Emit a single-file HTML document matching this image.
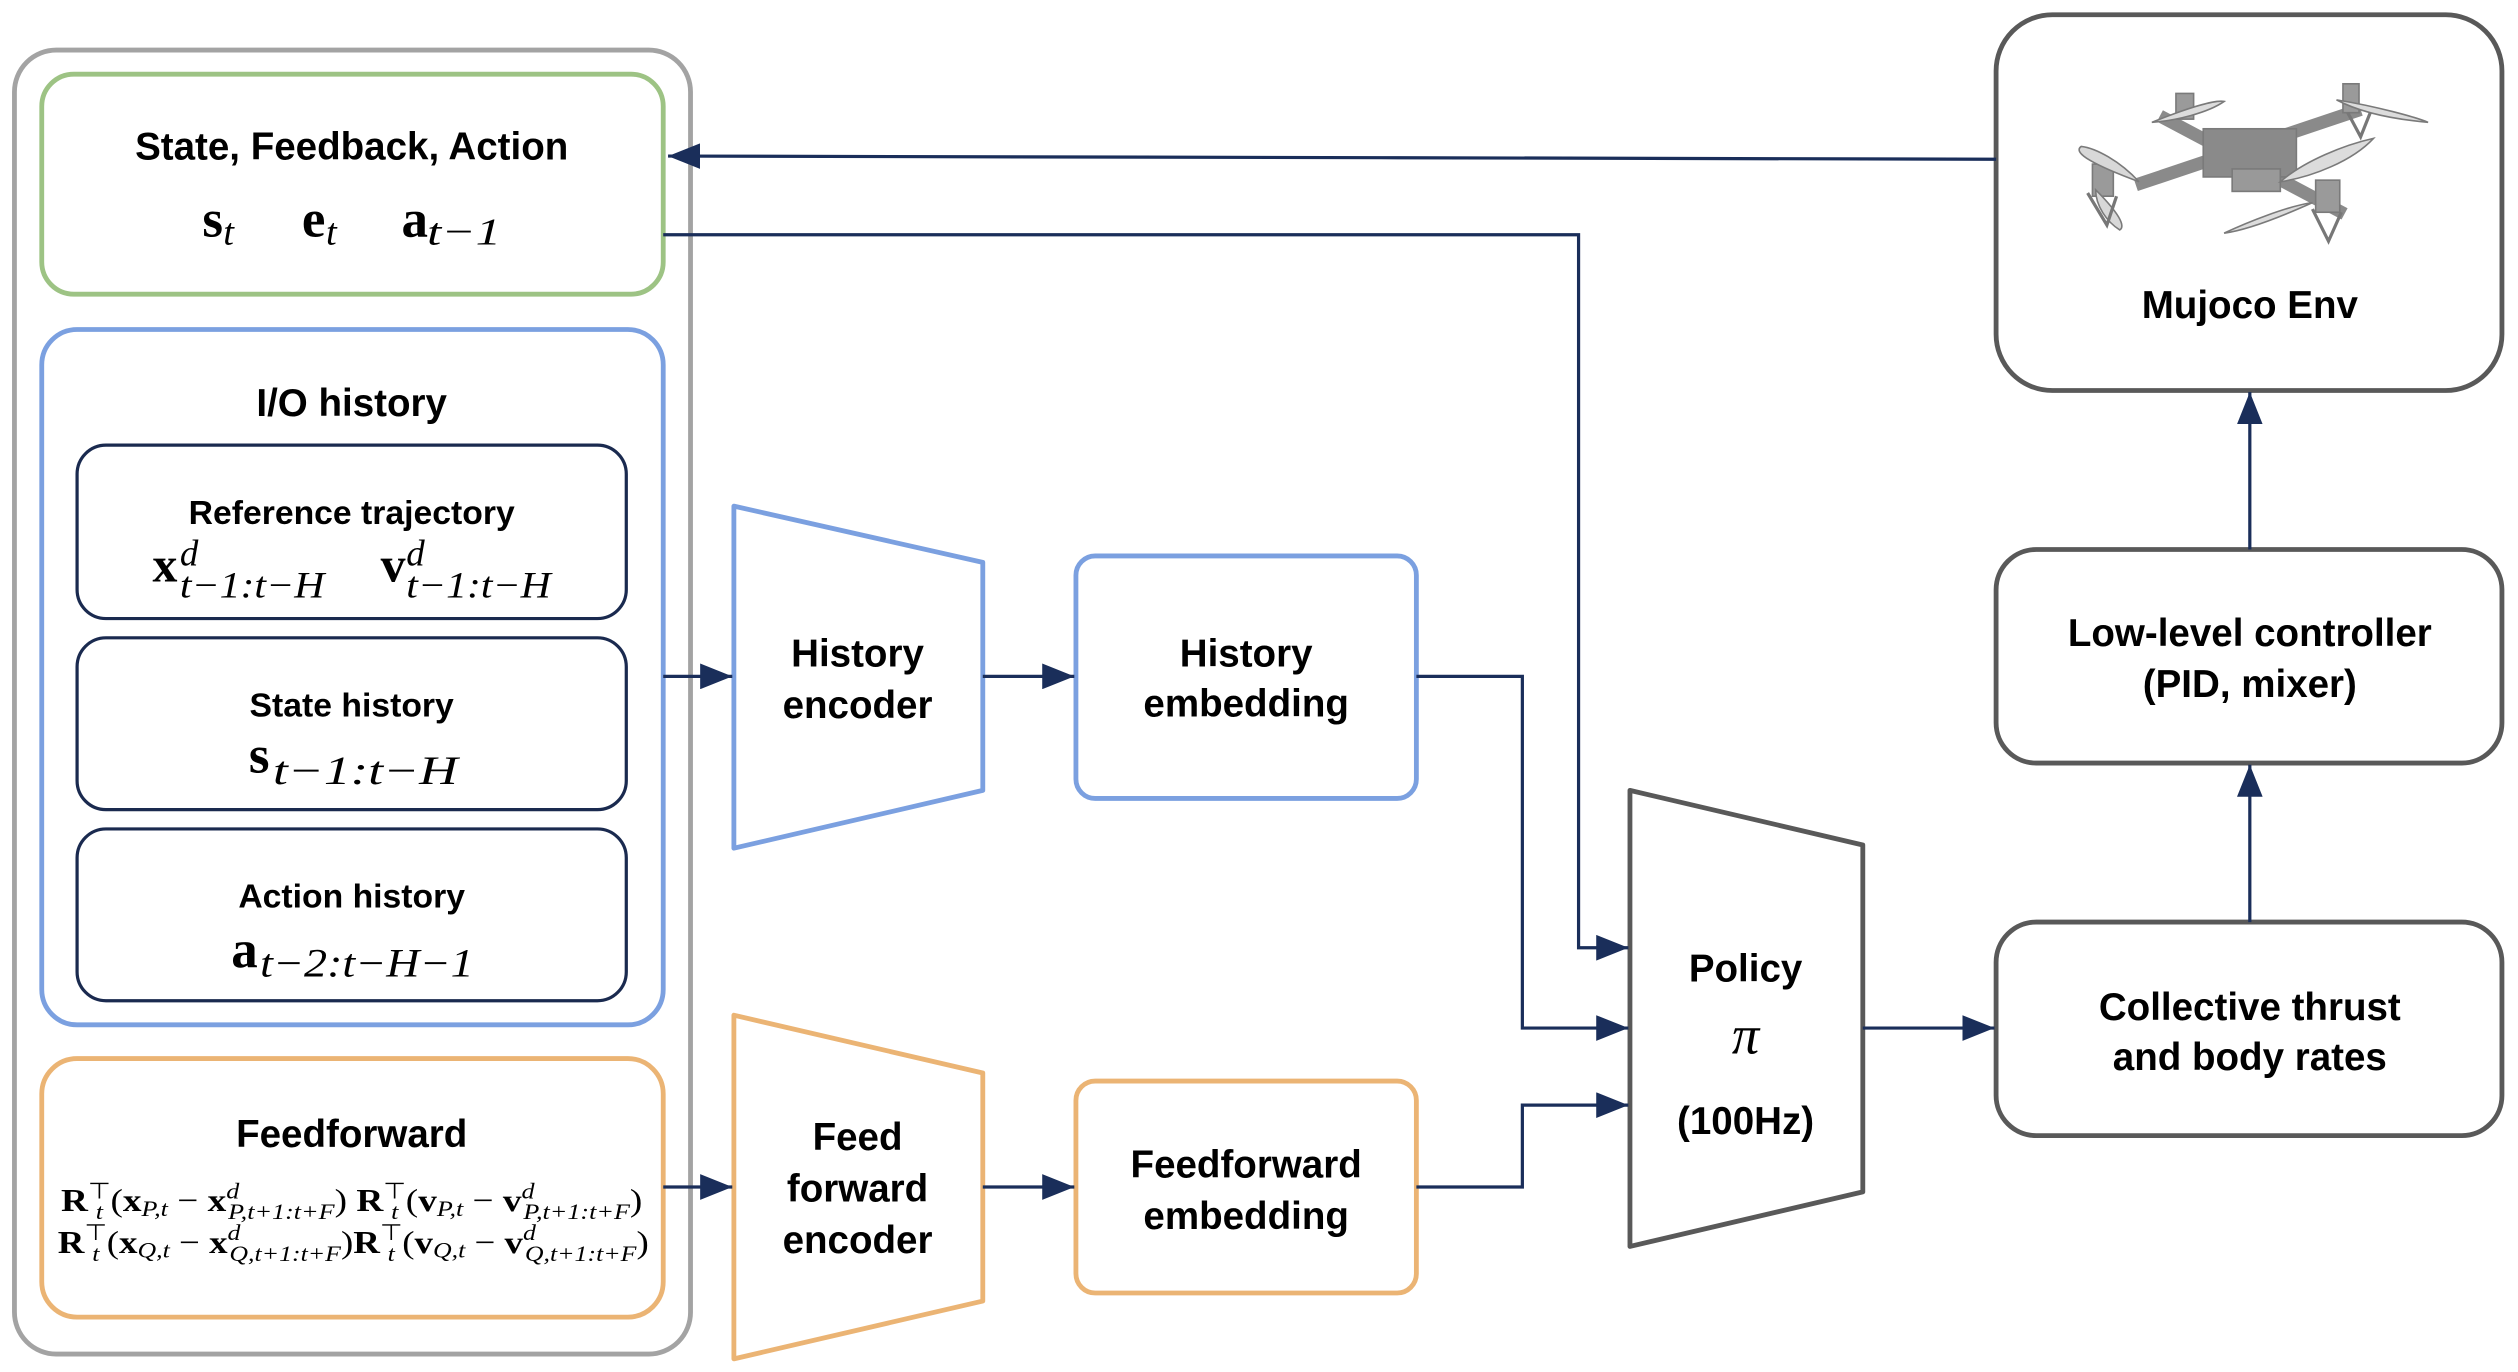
<!DOCTYPE html>
<html><head><meta charset="utf-8"><style>
html,body{margin:0;padding:0;background:#fff;}
svg{display:block;}
.t{font-family:"Liberation Sans",Arial,sans-serif;font-weight:bold;fill:#000;text-anchor:middle;}
.m{font-family:"Liberation Serif",serif;fill:#000;}
.b{font-weight:bold;}
.i{font-style:italic;}
</style></head><body>
<svg width="2518" height="1372" viewBox="0 0 1568 854" xmlns="http://www.w3.org/2000/svg">
<defs>
<marker id="ab" markerWidth="22" markerHeight="16" refX="20" refY="8" orient="auto" markerUnits="userSpaceOnUse">
<path d="M0,0 L20,8 L0,16 z" fill="#1a2e5a"/>
</marker>
</defs>

<rect x="9" y="31" width="421" height="812" rx="26" fill="none" stroke="#a3a3a3" stroke-width="3"/>

<rect x="26" y="46" width="387" height="137" rx="20" fill="none" stroke="#9dc384" stroke-width="3"/>
<text class="t" x="219" y="99" font-size="24">State, Feedback, Action</text>
<text class="m b" x="126" y="147" font-size="33">s</text><text class="m i" x="139" y="152" font-size="24">t</text>
<text class="m b" x="188" y="147" font-size="33">e</text><text class="m i" x="203" y="152" font-size="24">t</text>
<text class="m b" x="250" y="147" font-size="33">a</text><text class="m i" x="266" y="152" font-size="24" textLength="46" lengthAdjust="spacingAndGlyphs">t−1</text>

<rect x="26" y="205" width="387" height="433" rx="22" fill="none" stroke="#7ba0e0" stroke-width="3"/>
<text class="t" x="219" y="259" font-size="24">I/O history</text>

<rect x="48" y="277" width="342" height="108" rx="18" fill="none" stroke="#1a2a4f" stroke-width="2"/>
<text class="t" x="219" y="326" font-size="21">Reference trajectory</text>
<text class="m b" x="95" y="362" font-size="31">x</text>
<text class="m i" x="112" y="352" font-size="23">d</text>
<text class="m i" x="112" y="372" font-size="23" textLength="90" lengthAdjust="spacingAndGlyphs">t−1:t−H</text>
<text class="m b" x="237" y="362" font-size="31">v</text>
<text class="m i" x="253" y="352" font-size="23">d</text>
<text class="m i" x="253" y="372" font-size="23" textLength="90" lengthAdjust="spacingAndGlyphs">t−1:t−H</text>

<rect x="48" y="397" width="342" height="107" rx="18" fill="none" stroke="#1a2a4f" stroke-width="2"/>
<text class="t" x="219" y="446" font-size="21">State history</text>
<text class="m b" x="155" y="481" font-size="33">s</text>
<text class="m i" x="170" y="488" font-size="25" textLength="115" lengthAdjust="spacingAndGlyphs">t−1:t−H</text>

<rect x="48" y="516" width="342" height="107" rx="18" fill="none" stroke="#1a2a4f" stroke-width="2"/>
<text class="t" x="219" y="565" font-size="21">Action history</text>
<text class="m b" x="144" y="602" font-size="33">a</text>
<text class="m i" x="162" y="608" font-size="25" textLength="133" lengthAdjust="spacingAndGlyphs">t−2:t−H−1</text>

<rect x="26" y="659" width="387" height="161" rx="22" fill="none" stroke="#ebb474" stroke-width="3"/>
<text class="t" x="219" y="714" font-size="24">Feedforward</text>
<text class="m" x="38" y="754" font-size="20" textLength="362" lengthAdjust="spacingAndGlyphs"><tspan class="b">R</tspan><tspan font-size="14" dy="-8">⊤</tspan><tspan font-size="14" class="i" dx="-8" dy="13">t</tspan><tspan dy="-5" dx="4">(</tspan><tspan class="b">x</tspan><tspan class="i" font-size="14" dy="3">P,t</tspan><tspan dy="-3"> − </tspan><tspan class="b">x</tspan><tspan class="i" font-size="14" dy="-8">d</tspan><tspan class="i" font-size="14" dy="13" dx="-6">P,t+1:t+F</tspan><tspan dy="-5">) </tspan><tspan class="b">R</tspan><tspan font-size="14" dy="-8">⊤</tspan><tspan font-size="14" class="i" dx="-8" dy="13">t</tspan><tspan dy="-5" dx="4">(</tspan><tspan class="b">v</tspan><tspan class="i" font-size="14" dy="3">P,t</tspan><tspan dy="-3"> − </tspan><tspan class="b">v</tspan><tspan class="i" font-size="14" dy="-8">d</tspan><tspan class="i" font-size="14" dy="13" dx="-6">P,t+1:t+F</tspan><tspan dy="-5">)</tspan></text>
<text class="m" x="36" y="780" font-size="20" textLength="368" lengthAdjust="spacingAndGlyphs"><tspan class="b">R</tspan><tspan font-size="14" dy="-8">⊤</tspan><tspan font-size="14" class="i" dx="-8" dy="13">t</tspan><tspan dy="-5" dx="4">(</tspan><tspan class="b">x</tspan><tspan class="i" font-size="14" dy="3">Q,t</tspan><tspan dy="-3"> − </tspan><tspan class="b">x</tspan><tspan class="i" font-size="14" dy="-8">d</tspan><tspan class="i" font-size="14" dy="13" dx="-6">Q,t+1:t+F</tspan><tspan dy="-5">)</tspan><tspan class="b">R</tspan><tspan font-size="14" dy="-8">⊤</tspan><tspan font-size="14" class="i" dx="-8" dy="13">t</tspan><tspan dy="-5" dx="4">(</tspan><tspan class="b">v</tspan><tspan class="i" font-size="14" dy="3">Q,t</tspan><tspan dy="-3"> − </tspan><tspan class="b">v</tspan><tspan class="i" font-size="14" dy="-8">d</tspan><tspan class="i" font-size="14" dy="13" dx="-6">Q,t+1:t+F</tspan><tspan dy="-5">)</tspan></text>

<polygon points="457,315 612,350 612,492 457,528" fill="none" stroke="#7ba0e0" stroke-width="3" stroke-linejoin="round"/>
<text class="t" x="534" y="415" font-size="24">History</text>
<text class="t" x="534" y="447" font-size="24">encoder</text>

<rect x="670" y="346" width="212" height="151" rx="12" fill="none" stroke="#7ba0e0" stroke-width="3"/>
<text class="t" x="776" y="415" font-size="24">History</text>
<text class="t" x="776" y="446" font-size="24">embedding</text>

<polygon points="457,632 612,668 612,810 457,846" fill="none" stroke="#ebb474" stroke-width="3" stroke-linejoin="round"/>
<text class="t" x="534" y="716" font-size="24">Feed</text>
<text class="t" x="534" y="748" font-size="24">forward</text>
<text class="t" x="534" y="780" font-size="24">encoder</text>

<rect x="670" y="673" width="212" height="132" rx="12" fill="none" stroke="#ebb474" stroke-width="3"/>
<text class="t" x="776" y="733" font-size="24">Feedforward</text>
<text class="t" x="776" y="765" font-size="24">embedding</text>

<polygon points="1015,492 1160,526 1160,742 1015,776" fill="none" stroke="#595959" stroke-width="3" stroke-linejoin="round"/>
<text class="t" x="1087" y="611" font-size="24">Policy</text>
<text class="m i" x="1087" y="656" font-size="34" text-anchor="middle">π</text>
<text class="t" x="1087" y="706" font-size="24">(100Hz)</text>

<rect x="1243" y="9" width="315" height="234" rx="35" fill="none" stroke="#595959" stroke-width="3"/>
<text class="t" x="1401" y="198" font-size="24">Mujoco Env</text>
<g fill="#9a9a9a" stroke="#7a7a7a" stroke-width="1">
<path d="M1330,115 L1470,68" stroke="#8a8a8a" stroke-width="8" fill="none"/>
<path d="M1345,72 L1460,133" stroke="#8a8a8a" stroke-width="8" fill="none"/>
<rect x="1372" y="80" width="58" height="30" fill="#8a8a8a"/>
<rect x="1390" y="105" width="30" height="14" fill="#999"/>
<rect x="1303" y="102" width="13" height="20"/>
<rect x="1355" y="58" width="11" height="16"/>
<rect x="1459" y="52" width="10" height="18"/>
<rect x="1442" y="112" width="15" height="20"/>
<path d="M1332,113 C1305,103 1290,95 1296,91 C1305,92 1320,100 1332,113 Z" fill="#d8d8d8"/>
<path d="M1305,118 C1315,128 1325,140 1320,143 C1312,138 1305,128 1305,118 Z" fill="#d8d8d8"/>
<path d="M1340,76 C1365,66 1380,62 1385,63 C1375,70 1355,75 1340,76 Z" fill="#dcdcdc"/>
<path d="M1455,62 C1480,66 1505,73 1512,76 C1490,74 1470,70 1455,62 Z" fill="#dcdcdc"/>
<path d="M1420,113 C1435,100 1460,90 1478,86 C1465,100 1440,110 1420,113 Z" fill="#dcdcdc"/>
<path d="M1440,126 C1420,135 1400,143 1385,145 C1400,138 1425,128 1440,126 Z" fill="#dcdcdc"/>
<path d="M1440,130 L1450,150 L1458,132" fill="none" stroke="#777" stroke-width="2"/>
<path d="M1300,120 L1312,140 L1318,122" fill="none" stroke="#777" stroke-width="2"/>
<path d="M1462,70 L1470,85 L1476,70" fill="none" stroke="#777" stroke-width="2"/>
</g>

<rect x="1243" y="342" width="315" height="133" rx="25" fill="none" stroke="#595959" stroke-width="3"/>
<text class="t" x="1401" y="402" font-size="24">Low-level controller</text>
<text class="t" x="1401" y="434" font-size="24">(PID, mixer)</text>

<rect x="1243" y="574" width="315" height="133" rx="25" fill="none" stroke="#595959" stroke-width="3"/>
<text class="t" x="1401" y="635" font-size="24">Collective thrust</text>
<text class="t" x="1401" y="666" font-size="24">and body rates</text>

<g fill="none" stroke="#1a2e5a" stroke-width="2">
<path d="M1243,99 L860,98 L416,97" marker-end="url(#ab)"/>
<path d="M413,146 L983,146 L983,590 L1014,590" marker-end="url(#ab)"/>
<path d="M413,421 L456,421" marker-end="url(#ab)"/>
<path d="M612,421 L669,421" marker-end="url(#ab)"/>
<path d="M882,421 L948,421 L948,640 L1014,640" marker-end="url(#ab)"/>
<path d="M413,739 L456,739" marker-end="url(#ab)"/>
<path d="M612,739 L669,739" marker-end="url(#ab)"/>
<path d="M882,739 L948,739 L948,688 L1014,688" marker-end="url(#ab)"/>
<path d="M1160,640 L1242,640" marker-end="url(#ab)"/>
<path d="M1401,574 L1401,476" marker-end="url(#ab)"/>
<path d="M1401,342 L1401,244" marker-end="url(#ab)"/>
</g>
</svg>
</body></html>
